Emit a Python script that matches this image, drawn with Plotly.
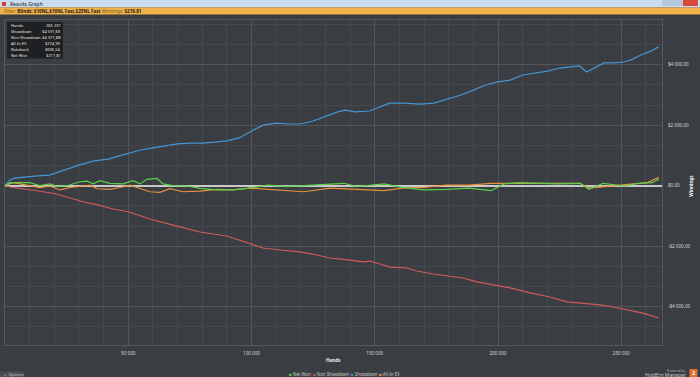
import plotly.graph_objects as go

# ---------------- data ----------------
showdown_hands = [0, 2000, 4000, 8000, 12000, 18000, 24000, 30000, 36000, 42000, 46000, 50000,
                  55000, 60000, 65000, 70000, 75000, 80000, 85000, 90000, 95000, 100000, 105000,
                  110000, 115000, 120000, 125000, 130000, 135000, 138000, 142000, 148000, 152000,
                  156000, 162000, 168000, 174000, 180000, 185000, 190000, 195000, 200000, 205000,
                  210000, 215000, 220000, 225000, 229000, 233000, 236000, 240000, 243000, 247000,
                  251000, 254000, 258000, 262000, 265231]
showdown_vals = [0, 190, 250, 290, 320, 350, 520, 680, 820, 880, 980, 1080,
                 1180, 1250, 1310, 1380, 1410, 1410, 1440, 1480, 1580, 1810, 2010,
                 2070, 2040, 2040, 2140, 2300, 2440, 2500, 2440, 2470, 2600,
                 2730, 2730, 2700, 2730, 2870, 3000, 3160, 3330, 3430, 3490,
                 3660, 3730, 3790, 3890, 3930, 3960, 3760, 3930, 4060, 4060,
                 4090, 4160, 4320, 4450, 4591.69]

nonsd_hands = [0, 3000, 8000, 14000, 20000, 25000, 32000, 38000, 43800, 50000, 58800, 69000,
               79100, 90000, 100600, 104700, 111600, 119700, 126600, 131800, 140000, 145200,
               148100, 152100, 156200, 163100, 167100, 173600, 181700, 185800, 191500, 200800,
               204900, 213000, 221100, 228000, 234500, 241400, 246700, 252300, 258800, 265231]
nonsd_vals = [0, -60, -110, -180, -258, -374, -539, -640, -770, -860, -1100, -1320,
              -1530, -1663, -1960, -2060, -2126, -2190, -2290, -2390, -2460, -2520,
              -2490, -2590, -2690, -2720, -2820, -2920, -3020, -3050, -3180, -3310,
              -3380, -3540, -3680, -3840, -3880, -3940, -4010, -4110, -4210, -4371.88]

netwon_hands = [0, 2000, 6100, 10100, 14200, 18300, 21100, 25200, 30400, 33300, 35700, 38500,
                42600, 47900, 51900, 54800, 57600, 61700, 64100, 68200, 73800, 79100, 86000,
                92500, 98200, 106700, 114000, 124500, 137500, 142800, 153800, 161100, 170000,
                178900, 188200, 197200, 202400, 208100, 215400, 224300, 233300, 236900, 242600,
                251500, 256800, 262500, 265231]
netwon_vals = [0, 100, 100, 100, 0, 60, -30, 0, 130, 150, 60, 165,
               80, 60, 165, 60, 210, 240, 60, 0, -10, -90, -140,
               -140, -90, 20, -30, 20, 80, -30, 60, -55, -140,
               -120, -80, -165, 60, 100, 80, 60, 80, -120, 80,
               -10, 80, 100, 217.81]

allin_hands = [0, 3200, 6100, 10100, 14200, 18300, 22300, 26400, 30400, 34500, 37300, 42600,
               46700, 50700, 53500, 58800, 62900, 66900, 72200, 79100, 86000, 92500, 99400,
               110300, 121300, 131800, 142800, 153800, 161100, 170000, 178900, 188200, 197200,
               206100, 215400, 233300, 236900, 251500, 260400, 265231]
allin_vals = [0, 100, 60, -10, -60, -10, -140, -60, -30, 20, -100, -120,
              -60, 20, -60, -200, -220, -100, -200, -180, -120, -140, -80,
              -140, -200, -80, -120, -165, -80, -55, 20, 20, 80,
              80, 60, 80, -80, 20, 100, 274.99]

y_tickvals = [-4000, -2000, 0, 2000, 4000]
y_ticktext = ["-$4 000,00", "-$2 000,00", "$0,00", "$2 000,00", "$4 000,00"]
x_tickvals = [50000, 100000, 150000, 200000, 250000]
x_ticktext = ["50 000", "100 000", "150 000", "200 000", "250 000"]

stat_labels = ["Hands", "Showdown", "Non Showdown", "All-In EV", "Rakeback", "Net Won"]
stat_values = ["265 231", "$4 591,69", "-$4 371,88", "$274,99", "$636,54", "$217,81"]

series_names = ["Net Won", "Non Showdown", "Showdown", "All-In EV"]
series_colors = ["#5cd04a", "#d35a5a", "#4596d2", "#e8903e"]

# ---------------- figure ----------------
W, H = 700, 377
L, R, T, B = 5, 662, 20, 345
BG = "#3a3d42"
FONT = "Noto Sans"

def px(x):
    return (x - L) / (R - L)

def py(y):
    return (B - y) / (B - T)

fig = go.Figure()
fig.add_trace(go.Scatter(x=nonsd_hands, y=nonsd_vals, mode="lines", name=series_names[1],
                         line=dict(color=series_colors[1], width=1.2)))
fig.add_trace(go.Scatter(x=showdown_hands, y=showdown_vals, mode="lines", name=series_names[2],
                         line=dict(color=series_colors[2], width=1.2)))
fig.add_trace(go.Scatter(x=allin_hands, y=allin_vals, mode="lines", name=series_names[3],
                         line=dict(color=series_colors[3], width=1.2)))
fig.add_trace(go.Scatter(x=netwon_hands, y=netwon_vals, mode="lines", name=series_names[0],
                         line=dict(color=series_colors[0], width=1.2)))

shapes = []
annotations = []

def rect(x0, x1, y0, y1, color):
    shapes.append(dict(type="rect", xref="paper", yref="paper", x0=px(x0), x1=px(x1),
                       y0=py(y1), y1=py(y0), fillcolor=color, line=dict(width=0), layer="above"))

def text(t, x, y, size, color, xanchor="left", angle=0):
    annotations.append(dict(text=t, xref="paper", yref="paper", x=px(x), y=py(y), xanchor=xanchor,
                            yanchor="middle", showarrow=False, textangle=angle,
                            font=dict(family=FONT, size=size, color=color)))

# title bar
rect(0, 700, 0, 7.5, "#c9dcf0")
rect(2, 6, 2, 6, "#d8432f")
rect(662, 683, 0, 6, "#b8c8da")
rect(683, 698, 0, 6, "#d84a3c")
text("Results Graph", 8, 3.8, 5, "#1a1a1a")
# orange filter bar
rect(0, 700, 7.5, 14.5, "#f0b24a")
text("<span style='color:#7a5a20'>Filter:</span> <b>Blinds: $10NL,$10NL Fast,$25NL Fast</b> "
     "<span style='color:#7a5a20'>Winnings:</span> <b>$219.81</b>", 2, 11, 4.6, "#2a2010")

# stats box
rect(7, 63, 22, 58.5, "#1f2022")
for i, (lab, val) in enumerate(zip(stat_labels, stat_values)):
    yy = 25.5 + i * 6.05
    text(lab, 8.5, yy, 4.0, "#e6e6e6")
    text(val, 62.5, yy, 4.0, "#e6e6e6", xanchor="right")

# axis titles
text("<b>Winnings</b>", 691, 185.7, 4.6, "#f0f0f0", xanchor="center", angle=-90)
text("<b>Hands</b>", 333, 359.7, 4.6, "#f0f0f0", xanchor="center")

# legend (bottom centre)
leg_x = [286.5, 311, 348.5, 376.5]
for name, col, lx in zip(series_names, series_colors, leg_x):
    text("<span style='color:%s'>■</span> %s" % (col, name), lx, 373.5, 4.4, "#c8c8c8")

# options button
rect(0, 23.5, 371.5, 377, "#4a4d52")
text("+  Options", 2, 374.5, 4.2, "#cfcfcf")

# powered by
text("Powered by", 687, 370.3, 3.3, "#b0b0b0", xanchor="right")
text("HoldEm Manager", 688, 374.6, 5, "#c8c8c8", xanchor="right")
rect(689.5, 697.5, 369, 377, "#e2702e")
text("<b>2</b>", 693.5, 373, 5.5, "#ffffff", xanchor="center")

fig.update_layout(
    width=W, height=H,
    margin=dict(l=L, r=W - R, t=T, b=H - B, pad=0),
    paper_bgcolor=BG, plot_bgcolor=BG,
    showlegend=False,
    shapes=shapes, annotations=annotations,
    font=dict(family=FONT, size=5, color="#d6d6d6"),
)
fig.update_xaxes(range=[0, 266530], tickvals=x_tickvals, ticktext=x_ticktext,
                 showgrid=True, gridcolor="#52555a", gridwidth=1,
                 minor=dict(dtick=10000, tick0=0, showgrid=True, gridcolor="#45484d", gridwidth=1),
                 zeroline=False, showline=True, linecolor="#55585d", linewidth=1, mirror=True,
                 ticks="", ticklabelstandoff=3,
                 tickfont=dict(family=FONT, size=4.6, color="#dadada"))
fig.update_yaxes(range=[-5266, 5478], tickvals=y_tickvals, ticktext=y_ticktext, side="right",
                 showgrid=True, gridcolor="#52555a", gridwidth=1,
                 minor=dict(dtick=2000 / 3, tick0=0, showgrid=True, gridcolor="#45484d", gridwidth=1),
                 zeroline=True, zerolinecolor="#c9c9c9", zerolinewidth=2,
                 showline=True, linecolor="#55585d", linewidth=1, mirror=True,
                 ticks="", ticklabelstandoff=4,
                 tickfont=dict(family=FONT, size=4.6, color="#dadada"))

fig.write_html("out.html", config={"displayModeBar": False},
               post_script="document.body.style.margin='0';document.body.style.padding='0';"
                           "document.body.style.background='%s';" % BG)
